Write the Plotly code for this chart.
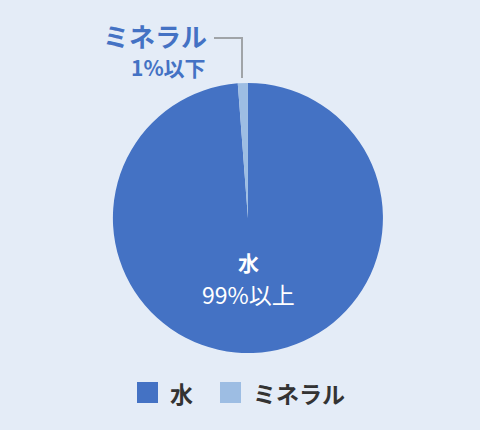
import plotly.graph_objects as go

# データ
labels = ['水', 'ミネラル']
values = [98.8, 1.2]
texto_pct = ['99%以上', '1%以下']
cores = ['#4472c4', '#9dbde3']

fonte = 'Noto Sans CJK JP'
fundo = '#e4ecf7'

fig = go.Figure()

fig.add_trace(go.Pie(
    labels=labels,
    values=values,
    marker=dict(colors=cores, line=dict(width=0)),
    sort=False,
    direction='clockwise',
    rotation=0,
    textinfo='none',
    hoverinfo='label+percent',
    domain=dict(x=[0.235, 0.798], y=[0.179, 0.807]),
    showlegend=False,
))


def nota(x, y, texto, size, color, xanchor='center'):
    # posição em pixels a partir do canto superior esquerdo
    return dict(x=x / 480, y=1 - y / 430, xref='paper', yref='paper',
                xanchor=xanchor, yanchor='middle', text=texto, showarrow=False,
                font=dict(family=fonte, size=size, color=color))


anns = []
# rótulo interno (水)
anns.append(nota(248, 262, '<b>' + labels[0] + '</b>', 21, 'white'))
anns.append(nota(248, 294, texto_pct[0], 23, 'white'))
# rótulo externo (ミネラル)
anns.append(nota(209, 36, '<b>' + labels[1] + '</b>', 26, cores[0], 'right'))
anns.append(nota(208, 67, '<b>' + texto_pct[1] + '</b>', 21, cores[0], 'right'))

# legenda manual
leg_x = [137, 220]
for i, lab in enumerate(labels):
    anns.append(nota(leg_x[i] + 31, 393, '<b>' + lab + '</b>', 23, '#333333', 'left'))

shapes = [
    # linha guia
    dict(type='path', xref='paper', yref='paper',
         path='M %f,%f L %f,%f L %f,%f' % (214 / 480, 1 - 38 / 430, 242 / 480, 1 - 38 / 430,
                                          242 / 480, 1 - 78 / 430),
         line=dict(color='#a0a4a8', width=2)),
]
for i in range(len(labels)):
    shapes.append(dict(type='rect', xref='paper', yref='paper',
                       x0=leg_x[i] / 480, x1=(leg_x[i] + 21) / 480,
                       y0=1 - 403 / 430, y1=1 - 382 / 430,
                       fillcolor=cores[i], line=dict(width=0)))

fig.update_layout(
    width=480,
    height=430,
    margin=dict(l=0, r=0, t=0, b=0),
    paper_bgcolor=fundo,
    plot_bgcolor=fundo,
    annotations=anns,
    shapes=shapes,
    showlegend=False,
)

fig.write_html('out.html', config={'displayModeBar': False},
               post_script="document.body.style.margin='0';")
